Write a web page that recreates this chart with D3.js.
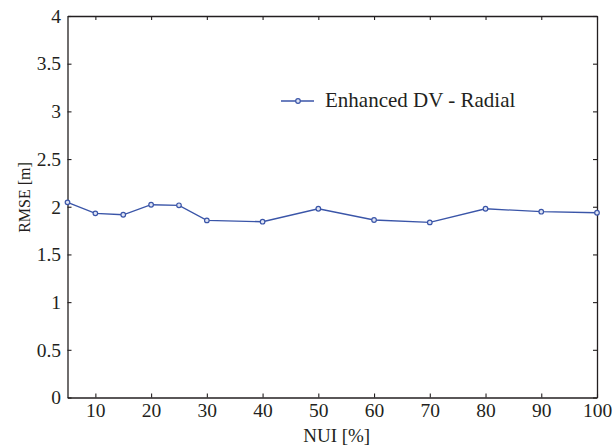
<!DOCTYPE html>
<html><head><meta charset="utf-8">
<script src="https://cdn.jsdelivr.net/npm/d3@7"></script>
<style>body{margin:0;background:#fff}</style>
</head><body><svg id="c" width="613" height="447"></svg>
<script>
const nui = [5, 10, 15, 20, 25, 30, 40, 50, 60, 70, 80, 90, 100];
const rmse = [2.046, 1.931, 1.916, 2.021, 2.015, 1.857, 1.843, 1.979, 1.861, 1.836, 1.979, 1.948, 1.937];
const xTicks = [10, 20, 30, 40, 50, 60, 70, 80, 90, 100];
const yTicks = [0, 0.5, 1, 1.5, 2, 2.5, 3, 3.5, 4];
const seriesName = "Enhanced DV - Radial";
const xLabel = "NUI [%]", yLabel = "RMSE [m]";

const FONT = '"Liberation Serif"';
const svg = d3.select("#c");
const L = 67.5, R = 597, T = 16, B = 397.5;
const x = d3.scaleLinear().domain([5, 100]).range([L, R]);
const y = d3.scaleLinear().domain([0, 4]).range([B, T]);
const col = "#3a55a8", axc = "#231f20";
const fmt = d => d3.format("")(d);

const gB = svg.append("g").attr("transform", `translate(0,${B})`).call(d3.axisBottom(x).tickValues(xTicks).tickSizeInner(-4).tickSizeOuter(0).tickPadding(6).tickFormat(fmt));
const gT = svg.append("g").attr("transform", `translate(0,${T})`).call(d3.axisTop(x).tickValues(xTicks).tickSizeInner(-4).tickSizeOuter(0).tickFormat(""));
const gL = svg.append("g").attr("transform", `translate(${L},0)`).call(d3.axisLeft(y).tickValues(yTicks).tickSizeInner(-4).tickSizeOuter(0).tickPadding(6.5).tickFormat(fmt));
const gR = svg.append("g").attr("transform", `translate(${R},0)`).call(d3.axisRight(y).tickValues(yTicks).tickSizeInner(-4).tickSizeOuter(0).tickFormat(""));
[gB, gT, gL, gR].forEach(g => {
  g.attr("font-family", null);
  g.selectAll(".domain").attr("stroke", axc).attr("stroke-width", 1.3);
  g.selectAll(".tick line").attr("stroke", axc).attr("stroke-width", 1.1);
  g.selectAll("text").attr("font-size", 19.5).attr("fill", axc).style("font-family", FONT);
});

const line = d3.line().x((d, i) => x(nui[i])).y(d => y(d));
svg.append("path").datum(rmse).attr("d", line).attr("fill", "none").attr("stroke", col).attr("stroke-width", 1.3);
svg.selectAll("circle.pt").data(rmse).join("circle").attr("class", "pt")
  .attr("cx", (d, i) => x(nui[i])).attr("cy", d => y(d)).attr("r", 2.3)
  .attr("fill", "#dfe4f4").attr("stroke", col).attr("stroke-width", 1.2);

// legend
const lg = svg.append("g");
lg.append("line").attr("x1", 281).attr("x2", 314).attr("y1", 101).attr("y2", 101).attr("stroke", col).attr("stroke-width", 1.3);
lg.append("circle").attr("cx", 298).attr("cy", 101).attr("r", 2.3).attr("fill", "#dfe4f4").attr("stroke", col).attr("stroke-width", 1.2);
lg.append("text").attr("x", 325).attr("y", 107).attr("font-size", 21).attr("fill", axc).style("font-family", FONT).text(seriesName);

svg.append("text").attr("x", 336.7).attr("y", 441.5).attr("text-anchor", "middle").attr("font-size", 19).attr("fill", axc).style("font-family", FONT).text(xLabel);
svg.append("text").attr("transform", `translate(30,197.5) rotate(-90)`).attr("text-anchor", "middle").attr("font-size", 16).attr("fill", axc).style("font-family", FONT).text(yLabel);
</script></body></html>
